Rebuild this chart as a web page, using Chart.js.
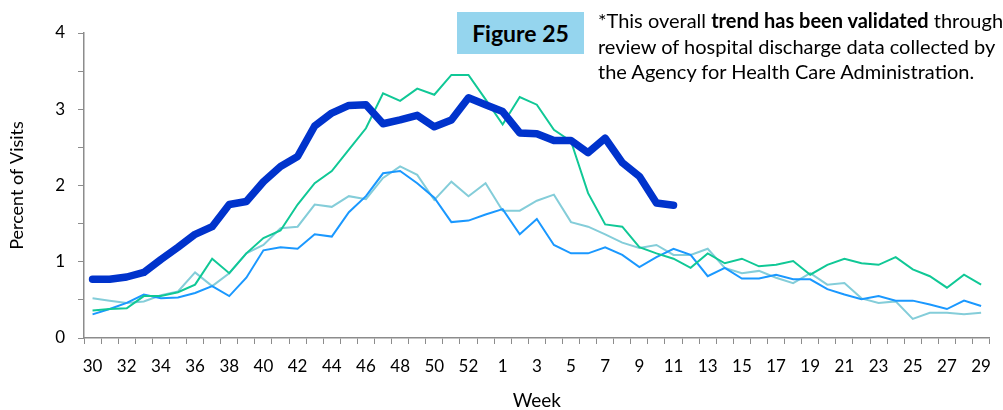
<!DOCTYPE html>
<html>
<head>
<meta charset="utf-8">
<script src="https://cdn.jsdelivr.net/npm/chart.js@4/dist/chart.umd.min.js"></script>
<style>
  html, body { margin: 0; padding: 0; background: #fff; }
  body { width: 1003px; height: 410px; overflow: hidden; position: relative; font-family: Lato, "Open Sans", sans-serif; }
  #wrap { position: absolute; left: 0; top: 0; width: 1003px; height: 410px; }
  #fig {
    position: absolute; left: 457px; top: 12px; width: 127px; height: 42px;
    background: #95d5ee; color: #000; font-weight: bold; font-size: 23px;
    line-height: 42px; text-align: center;
  }
  #note {
    position: absolute; left: 598px; top: 8px; white-space: nowrap;
    font-size: 20px; line-height: 25.5px; color: #000;
  }
</style>
</head>
<body>
<div id="wrap"><canvas id="chart" width="1003" height="410"></canvas></div>
<div id="fig">Figure 25</div>
<div id="note">*This overall <b>trend has been validated</b> through<br>review of hospital discharge data collected by<br>the Agency for Health Care Administration.</div>
<script>
// weeks 30..53 then 1..29
const weeks = [30, 31, 32, 33, 34, 35, 36, 37, 38, 39, 40, 41, 42, 43, 44, 45, 46, 47, 48, 49, 50, 51, 52, 53,
  1, 2, 3, 4, 5, 6, 7, 8, 9, 10, 11, 12, 13, 14, 15, 16, 17, 18, 19, 20, 21, 22, 23, 24, 25, 26, 27, 28, 29];

const currentSeason = [0.77, 0.77, 0.80, 0.86, 1.03, 1.19, 1.36, 1.46, 1.75, 1.79, 2.05, 2.25, 2.38, 2.78, 2.95, 3.05, 3.06, 2.81,
  2.86, 2.92, 2.77, 2.86, 3.15, 3.06, 2.97, 2.69, 2.68, 2.59, 2.59, 2.43, 2.62, 2.30, 2.12, 1.77, 1.74];

const seasonGreen = [0.36, 0.38, 0.39, 0.55, 0.55, 0.60, 0.70, 1.04, 0.85, 1.11, 1.31, 1.41, 1.75, 2.03, 2.19, 2.47, 2.75, 3.21,
  3.11, 3.27, 3.19, 3.45, 3.45, 3.13, 2.80, 3.16, 3.06, 2.73, 2.58, 1.90, 1.49, 1.46, 1.19, 1.11, 1.04, 0.92,
  1.11, 0.98, 1.04, 0.94, 0.96, 1.01, 0.83, 0.96, 1.04, 0.98, 0.96, 1.06, 0.90, 0.81, 0.66, 0.83, 0.70];

const seasonBlue = [0.31, 0.38, 0.46, 0.57, 0.52, 0.53, 0.59, 0.68, 0.55, 0.79, 1.15, 1.19, 1.17, 1.36, 1.33, 1.65, 1.86, 2.16,
  2.19, 2.03, 1.84, 1.52, 1.54, 1.62, 1.69, 1.36, 1.56, 1.22, 1.11, 1.11, 1.19, 1.09, 0.93, 1.06, 1.17, 1.09,
  0.81, 0.92, 0.78, 0.78, 0.83, 0.77, 0.77, 0.64, 0.57, 0.51, 0.55, 0.49, 0.49, 0.44, 0.38, 0.49, 0.42];

const seasonTeal = [0.52, 0.49, 0.46, 0.48, 0.56, 0.61, 0.86, 0.68, 0.85, 1.11, 1.22, 1.44, 1.46, 1.75, 1.72, 1.86, 1.82, 2.10,
  2.25, 2.14, 1.81, 2.05, 1.86, 2.03, 1.67, 1.67, 1.80, 1.88, 1.52, 1.46, 1.36, 1.25, 1.18, 1.22, 1.09, 1.09,
  1.17, 0.92, 0.85, 0.88, 0.79, 0.72, 0.85, 0.70, 0.72, 0.52, 0.46, 0.48, 0.25, 0.33, 0.33, 0.31, 0.33];

const yTicks = [0, 1, 2, 3, 4];

const axisGrey = '#8c8c8c';
const fontFamily = 'Lato, "Open Sans", sans-serif';

new Chart(document.getElementById('chart'), {
  type: 'line',
  data: {
    labels: weeks,
    datasets: [
      { data: currentSeason, borderColor: '#0033cc', borderWidth: 7.5, borderCapStyle: 'round', borderJoinStyle: 'round' },
      { data: seasonGreen, borderColor: '#10c896', borderWidth: 2 },
      { data: seasonBlue, borderColor: '#1a98ff', borderWidth: 2 },
      { data: seasonTeal, borderColor: '#84cdd9', borderWidth: 2 }
    ]
  },
  options: {
    responsive: false,
    animation: false,
    layout: { padding: { top: 33, right: 3, left: 0, bottom: 0 } },
    elements: { point: { radius: 0 }, line: { tension: 0, fill: false } },
    plugins: { legend: { display: false }, tooltip: { enabled: false } },
    scales: {
      x: {
        type: 'category',
        offset: true,
        grid: { offset: true, drawOnChartArea: false, drawTicks: true, tickLength: 6, color: axisGrey },
        border: { display: true, color: axisGrey, width: 1.5 },
        ticks: {
          autoSkip: false, maxRotation: 0, padding: 12, color: '#000',
          font: { family: fontFamily, size: 17 },
          callback: (v, i) => (i % 2 === 0 ? weeks[i] : '')
        },
        title: { display: true, text: 'Week', color: '#000', font: { family: fontFamily, size: 19 }, padding: { top: 0, bottom: -2 } },
        afterFit: s => { s.height = 72; }
      },
      y: {
        min: 0, max: 4,
        grid: { drawOnChartArea: false, drawTicks: true, tickLength: 6, color: axisGrey },
        border: { display: true, color: axisGrey, width: 1.5 },
        ticks: {
          stepSize: 0.5, padding: 13, color: '#000',
          font: { family: fontFamily, size: 17 },
          callback: v => (yTicks.includes(v) ? v : '')
        },
        title: { display: true, text: 'Percent of Visits', color: '#000', font: { family: fontFamily, size: 18 }, padding: { top: 6, bottom: 0 } },
        afterFit: s => { s.width = 84; }
      }
    }
  }
});
</script>
</body>
</html>
